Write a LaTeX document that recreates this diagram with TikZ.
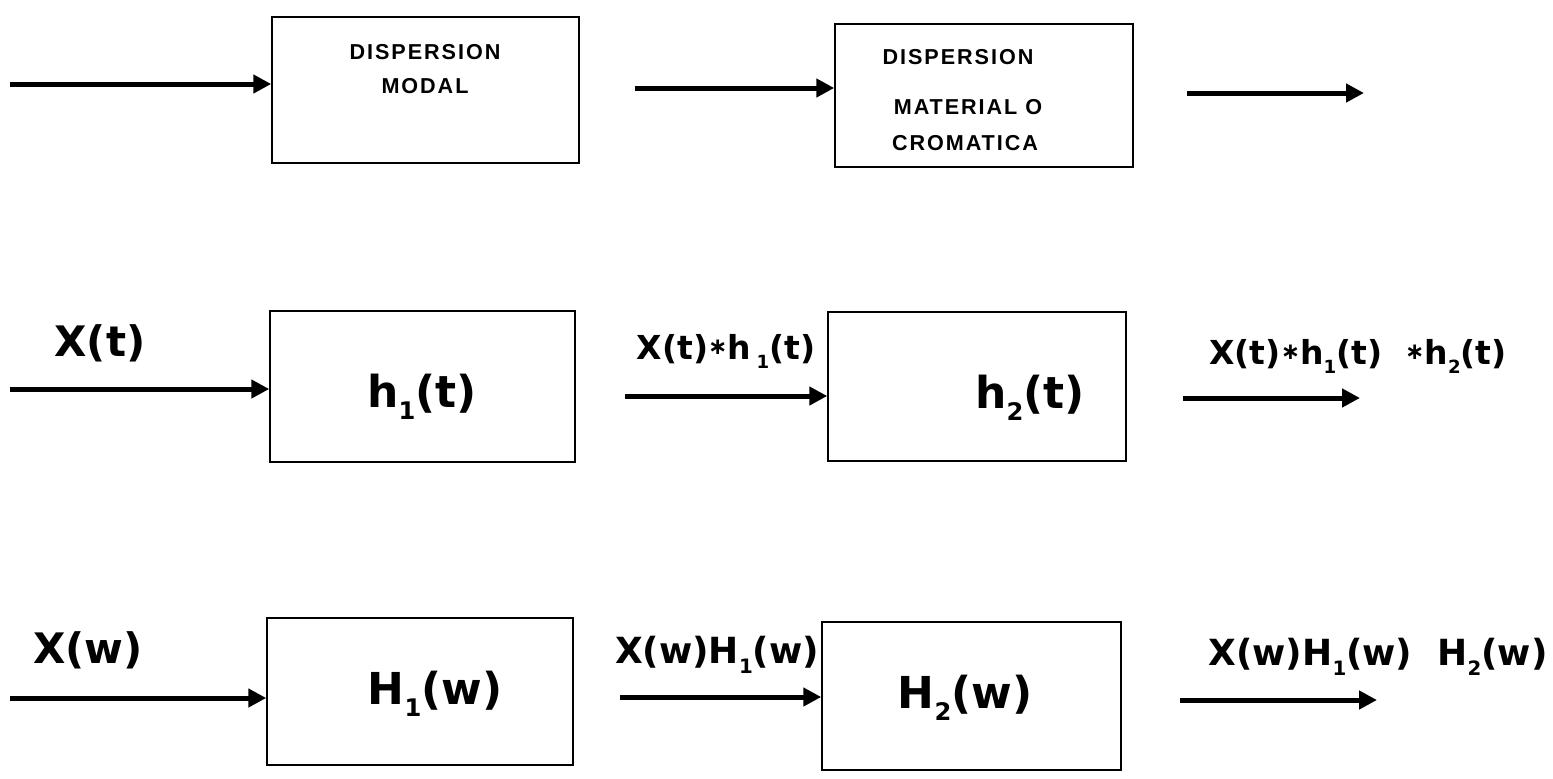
\documentclass[tikz,border=0pt]{standalone}
\usepackage{fontspec}
\setmainfont{Liberation Sans}
\newfontfamily\djv{DejaVu Sans}
\usetikzlibrary{arrows.meta}
\newcommand{\lo}[1]{\raisebox{-0.5ex}{\scalebox{0.55}{#1}}}
\newcommand{\cv}{\raisebox{0.25ex}{\scalebox{0.7}{∗}}}
\begin{document}
\begin{tikzpicture}[x=0.5pt,y=-0.5pt,
  blk/.style={draw,line width=0.75pt,inner sep=0pt},
  arr/.style={line width=2.5pt,-{Triangle[length=9pt,width=9pt]}},
  caps/.style={font=\fontsize{10.8}{12}\selectfont\bfseries\addfontfeatures{LetterSpace=9},inner sep=0pt},
  big/.style={font=\djv\fontsize{22}{26}\selectfont\bfseries,inner sep=0pt},
  inl/.style={font=\djv\fontsize{21}{25}\selectfont\bfseries,inner sep=0pt},
  lab/.style={font=\djv\fontsize{16.5}{18}\selectfont\bfseries,inner sep=0pt},
  labw/.style={font=\djv\fontsize{18}{20}\selectfont\bfseries,inner sep=0pt}]
\useasboundingbox (0,0) rectangle (1553,778);
% row 1
\node[blk,minimum width=153.5pt,minimum height=73pt] (b11) at (425.5,90) {};
\node[blk,minimum width=149pt,minimum height=71.5pt] (b12) at (984,95.5) {};
\node[caps] (t11a) at (425,52) {DISPERSION};
\node[caps] (t11b) at (425,86) {MODAL};
\node[caps] (t12a) at (958,57) {DISPERSION};
\node[caps] (t12b) at (968,107) {MATERIAL O};
\node[caps] (t12c) at (965,143) {CROMATICA};
\coordinate (i1) at (10,84);
\coordinate (m1) at (635,88);
\coordinate (o1s) at (1187,93);
\coordinate (o1e) at (1364,93);
\draw[arr] (i1) -- (b11.west |- i1);
\draw[arr] (m1) -- (b12.west |- m1);
\draw[arr] (o1s) -- (o1e);
% row 2
\node[blk,minimum width=152.5pt,minimum height=75.5pt] (b21) at (422.5,386.5) {};
\node[blk,minimum width=149pt,minimum height=74.5pt] (b22) at (977,386.5) {};
\node[inl] (l21) at (100,343) {X(t)};
\node[big] (t21) at (422,397) {h\lo{1}(t)};
\node[lab] (l22) at (726,351) {X(t)\cv h\,\lo{1}(t)};
\node[big] (t22) at (1030,398) {h\lo{2}(t)};
\node[lab] (l23) at (1358,356) {X(t)\cv h\lo{1}(t)\ \ \cv h\lo{2}(t)};
\coordinate (i2) at (10,389);
\coordinate (m2) at (625,396);
\coordinate (o2s) at (1183,398);
\coordinate (o2e) at (1360,398);
\draw[arr] (i2) -- (b21.west |- i2);
\draw[arr] (m2) -- (b22.west |- m2);
\draw[arr] (o2s) -- (o2e);
% row 3
\node[blk,minimum width=153pt,minimum height=73.5pt] (b31) at (420,691.5) {};
\node[blk,minimum width=149.5pt,minimum height=74pt] (b32) at (971.5,696) {};
\node[inl] (l31) at (88,650) {X(w)};
\node[big] (t31) at (435,694) {H\lo{1}(w)};
\node[labw] (l32) at (717,655) {X(w)H\lo{1}(w)};
\node[big] (t32) at (965,698) {H\lo{2}(w)};
\node[labw] (l33) at (1378,657) {X(w)H\lo{1}(w)\ \ H\lo{2}(w)};
\coordinate (i3) at (10,698);
\coordinate (m3) at (620,697);
\coordinate (o3s) at (1180,700);
\coordinate (o3e) at (1377,700);
\draw[arr] (i3) -- (b31.west |- i3);
\draw[arr] (m3) -- (b32.west |- m3);
\draw[arr] (o3s) -- (o3e);
\end{tikzpicture}
\end{document}
